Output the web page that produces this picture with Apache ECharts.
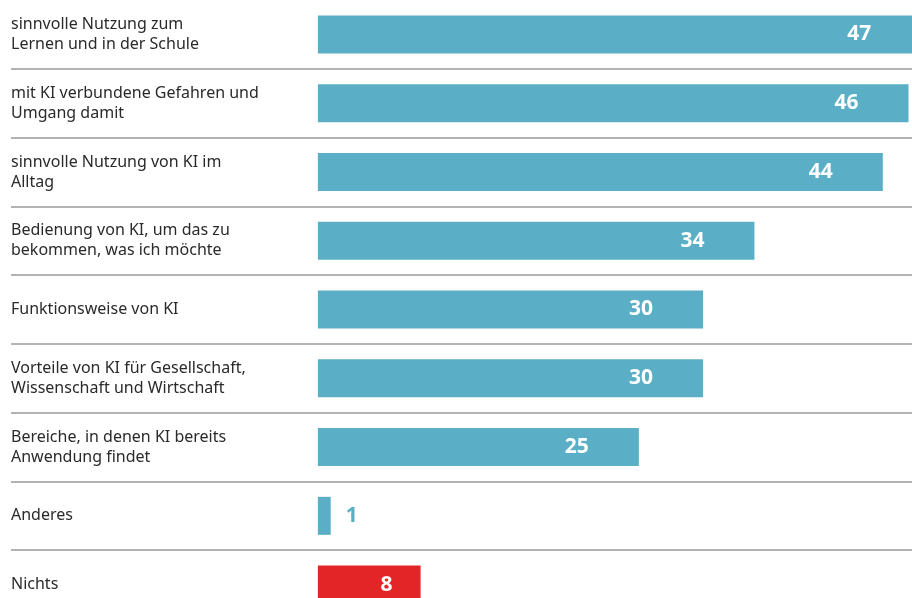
<!DOCTYPE html>
<html>
<head>
<meta charset="utf-8">
<script src="https://cdn.jsdelivr.net/npm/echarts@6/dist/echarts.min.js"></script>
<style>
html,body{margin:0;padding:0;background:#fff;}
#chart{width:912px;height:598px;}
</style>
</head>
<body>
<div id="chart"></div>
<script>
var categories = [
  "sinnvolle Nutzung zum\nLernen und in der Schule",
  "mit KI verbundene Gefahren und\nUmgang damit",
  "sinnvolle Nutzung von KI im\nAlltag",
  "Bedienung von KI, um das zu\nbekommen, was ich möchte",
  "Funktionsweise von KI",
  "Vorteile von KI für Gesellschaft,\nWissenschaft und Wirtschaft",
  "Bereiche, in denen KI bereits\nAnwendung findet",
  "Anderes",
  "Nichts"
];
var values = [47, 46, 44, 34, 30, 30, 25, 1, 8];
var highlightCategory = "Nichts";
var outsideLabelCategory = "Anderes";

var TEAL = "#5aafc6";
var RED = "#e42528";

var seriesData = values.map(function (v, i) {
  var d = { value: v };
  if (categories[i] === highlightCategory) {
    d.itemStyle = { color: RED };
    d.label = { distance: 28 };
  }
  if (categories[i] === outsideLabelCategory) {
    d.label = { position: "right", distance: 15, color: TEAL };
  }
  return d;
});

var chart = echarts.init(document.getElementById("chart"), null, { renderer: "canvas" });
chart.setOption({
  animation: false,
  grid: { left: 11, right: -20, top: 0, bottom: -21, containLabel: false, outerBoundsMode: "none" },
  xAxis: {
    type: "value",
    min: -23.9,
    max: 47.83,
    show: false
  },
  yAxis: {
    type: "category",
    data: categories,
    inverse: true,
    axisLine: { show: false },
    axisTick: { show: false },
    axisLabel: {
      inside: true,
      align: "left",
      margin: 0,
      fontFamily: "Noto Sans",
      fontSize: 16,
      lineHeight: 20,
      color: "#2a2a2a"
    },
    splitLine: {
      show: true,
      interval: function (i) { return i > 0; },
      lineStyle: { color: "#b3b3b3", width: 2 }
    }
  },
  series: [{
    type: "bar",
    data: seriesData,
    barWidth: 38,
    itemStyle: { color: TEAL },
    label: {
      show: true,
      position: "insideRight",
      distance: 50,
      color: "#fff",
      fontFamily: "Open Sans",
      fontWeight: "bold",
      fontSize: 21
    }
  }]
});
</script>
</body>
</html>
